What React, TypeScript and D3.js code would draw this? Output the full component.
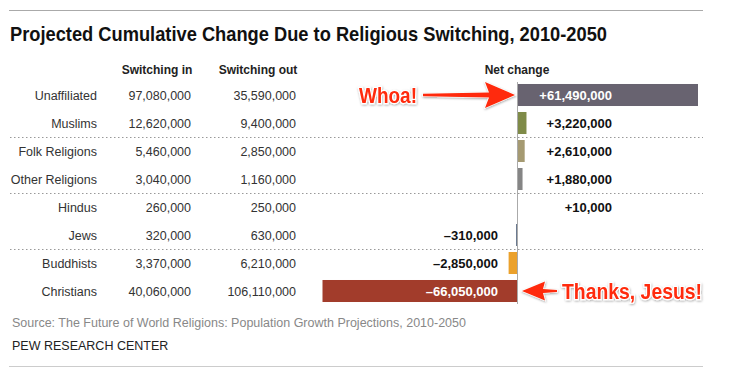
import React, { useEffect, useRef } from "react";
import * as d3 from "d3";

const groups = ["Unaffiliated", "Muslims", "Folk Religions", "Other Religions", "Hindus", "Jews", "Buddhists", "Christians"];
const switchingIn = [97080000, 12620000, 5460000, 3040000, 260000, 320000, 3370000, 40060000];
const switchingOut = [35590000, 9400000, 2850000, 1160000, 250000, 630000, 6210000, 106110000];
const netChange = [61490000, 3220000, 2610000, 1880000, 10000, -310000, -2850000, -66050000];
const barColors = ["#686370", "#7f8b48", "#a59a72", "#858585", "#5e6f86", "#5e6f86", "#eba12c", "#a23c2b"];
const separatorsAfter = ["Muslims", "Other Religions", "Jews"];

const W = 729;
const H = 372;
const FONT = "'Liberation Sans', Arial, sans-serif";
const RED = "#ff2a0a";

const fmt = d3.format(",");

export default function App() {
  const ref = useRef<SVGSVGElement | null>(null);

  useEffect(() => {
    const svg = d3.select(ref.current);
    svg.selectAll("*").remove();

    const defs = svg.append("defs");
    const f = defs.append("filter").attr("id", "shadow").attr("x", "-10%").attr("y", "-30%").attr("width", "130%").attr("height", "170%");
    f.append("feDropShadow").attr("dx", 0.5).attr("dy", 1).attr("stdDeviation", 1).attr("flood-color", "#000").attr("flood-opacity", 0.35);

    // frame lines
    svg.append("line").attr("x1", 9).attr("x2", 703).attr("y1", 10.5).attr("y2", 10.5).attr("stroke", "#aaa").attr("stroke-width", 1);
    svg.append("line").attr("x1", 9).attr("x2", 703).attr("y1", 366.5).attr("y2", 366.5).attr("stroke", "#ccc").attr("stroke-width", 1);

    // title, squeezed to the condensed width of the original
    svg.append("text").attr("x", 10).attr("y", 41)
      .style("font-family", FONT)
      .style("font-weight", "bold").style("font-size", "21px").attr("fill", "#111")
      .attr("textLength", 597).attr("lengthAdjust", "spacingAndGlyphs")
      .text("Projected Cumulative Change Due to Religious Switching, 2010-2050");

    const y = d3.scaleBand<string>().domain(groups).range([81, 305]).paddingInner(0.214).paddingOuter(0.107);
    const maxAbs = d3.max(netChange, (d) => Math.abs(d)) as number;
    const x = d3.scaleLinear().domain([-maxAbs, 0, 61490000]).range([322.5, 517, 698]);
    const zero = x(0);

    // headers
    const hdr = svg.append("g").style("font-family", FONT).style("font-weight", "bold").style("font-size", "12px").attr("fill", "#222").attr("text-anchor", "middle");
    hdr.append("text").attr("x", 157).attr("y", 74).text("Switching in");
    hdr.append("text").attr("x", 258).attr("y", 74).text("Switching out");
    hdr.append("text").attr("x", zero).attr("y", 74).text("Net change");

    // separators
    separatorsAfter.forEach((g) => {
      const yy = Math.round((y(g) as number) + y.bandwidth() + (y.step() - y.bandwidth()) / 2) + 0.5;
      svg.append("line").attr("x1", 10).attr("x2", 703).attr("y1", yy).attr("y2", yy)
        .attr("stroke", "#999").attr("stroke-width", 1).attr("stroke-dasharray", "1.5,2.5");
    });

    const rows = svg.append("g").style("font-family", FONT).style("font-size", "12.5px").attr("fill", "#333");
    groups.forEach((g, i) => {
      const cy = (y(g) as number) + y.bandwidth() / 2 + 4.5;
      rows.append("text").attr("x", 97).attr("y", cy).attr("text-anchor", "end").text(g);
      rows.append("text").attr("x", 191).attr("y", cy).attr("text-anchor", "end").text(fmt(switchingIn[i]));
      rows.append("text").attr("x", 296).attr("y", cy).attr("text-anchor", "end").text(fmt(switchingOut[i]));
    });

    // bars
    svg.append("g").selectAll("rect").data(netChange).enter().append("rect")
      .attr("x", (d) => Math.min(x(d), zero))
      .attr("y", (_d, i) => y(groups[i]) as number)
      .attr("width", (d) => Math.max(Math.abs(x(d) - zero), d < 0 ? 1.5 : 0))
      .attr("height", y.bandwidth())
      .attr("fill", (_d, i) => barColors[i]);

    // zero axis
    svg.append("line").attr("x1", zero + 0.5).attr("x2", zero + 0.5).attr("y1", 82).attr("y2", 304).attr("stroke", "#aaa").attr("stroke-width", 1);

    // value labels
    svg.append("g").style("font-family", FONT).style("font-weight", "bold").style("font-size", "13px")
      .selectAll("text").data(netChange).enter().append("text")
      .attr("x", (d) => (d >= 0 ? 612 : 498))
      .attr("y", (_d, i) => (y(groups[i]) as number) + y.bandwidth() / 2 + 4.5)
      .attr("text-anchor", "end")
      .attr("fill", (d) => (Math.abs(d) > 20000000 ? "#fff" : "#111"))
      .text((d) => (d >= 0 ? "+" : "\u2013") + fmt(Math.abs(d)));

    // footer
    svg.append("text").attr("x", 12).attr("y", 327).style("font-family", FONT).style("font-size", "12.5px").attr("fill", "#888")
      .text("Source: The Future of World Religions: Population Growth Projections, 2010-2050");
    svg.append("text").attr("x", 12).attr("y", 350).style("font-family", FONT).style("font-size", "12.5px").attr("fill", "#222")
      .text("PEW RESEARCH CENTER");

    // annotations
    const ann = svg.append("g").attr("filter", "url(#shadow)");
    const uy = (y("Unaffiliated") as number) + y.bandwidth() / 2;
    const cy = (y("Christians") as number) + y.bandwidth() / 2;
    const annText = (xx: number, yy: number, t: string, len: number) =>
      ann.append("text").attr("x", xx).attr("y", yy)
        .style("font-family", FONT)
        .style("font-weight", "bold").style("font-size", "22px")
        .attr("textLength", len).attr("lengthAdjust", "spacingAndGlyphs")
        .attr("fill", RED).attr("stroke", "#fff").attr("stroke-width", 2.5).style("paint-order", "stroke")
        .text(t);
    annText(359, uy + 8, "Whoa!", 58);
    annText(562, cy + 8, "Thanks, Jesus!", 140);

    // right-pointing arrow to Unaffiliated bar
    const tipR = zero - 2;
    ann.append("path")
      .attr("d", `M423,${uy - 1.2} L${tipR - 26},${uy - 2.5} L${tipR - 30},${uy - 13} L${tipR},${uy} L${tipR - 30},${uy + 13} L${tipR - 26},${uy + 2.5} L423,${uy + 1.2} Z`)
      .attr("fill", RED).attr("stroke", "#fff").attr("stroke-width", 1.2).style("paint-order", "stroke");

    // left-pointing arrow to Christians bar
    const tipL = zero + 5;
    ann.append("path")
      .attr("d", `M557,${cy - 1} L${tipL + 21},${cy - 2} L${tipL + 23},${cy - 9.5} L${tipL},${cy} L${tipL + 23},${cy + 9.5} L${tipL + 21},${cy + 2} L557,${cy + 1} Z`)
      .attr("fill", RED).attr("stroke", "#fff").attr("stroke-width", 1.2).style("paint-order", "stroke");
  }, []);

  return (
    <svg ref={ref} width={W} height={H} style={{ display: "block", position: "absolute", left: 0, top: 0, background: "#fff" }} />
  );
}
